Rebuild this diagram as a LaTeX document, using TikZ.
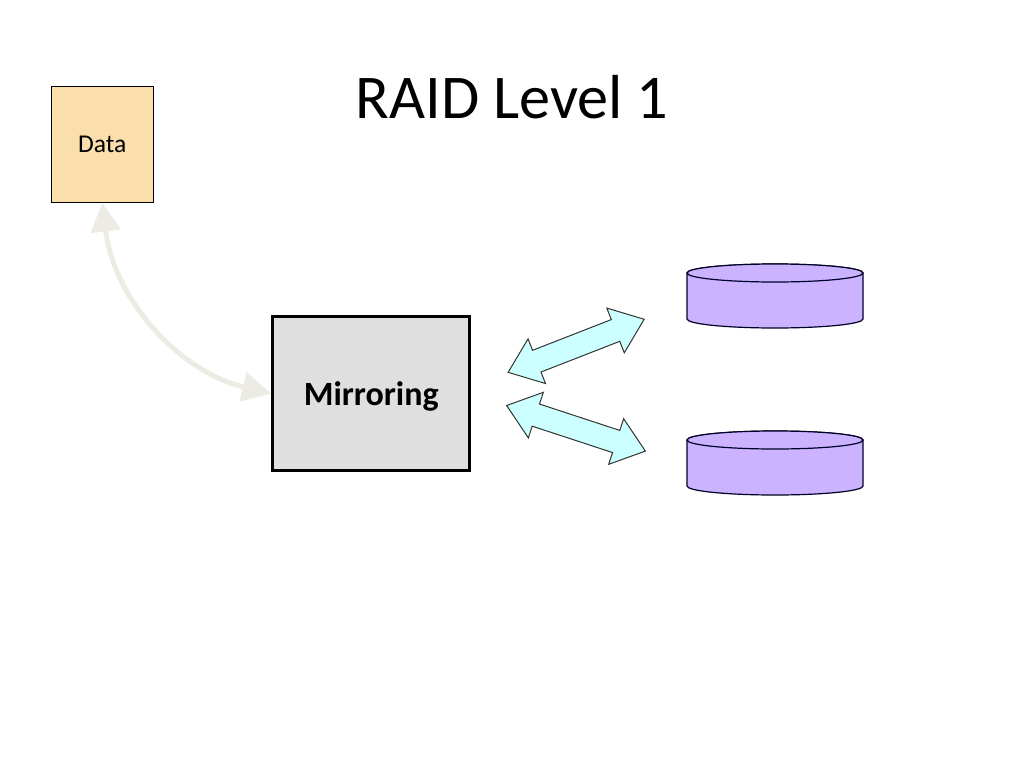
\documentclass[tikz,border=0pt]{standalone}
\usepackage{fontspec}
\setmainfont{Carlito}
\usetikzlibrary{arrows.meta,shapes.arrows}
\definecolor{datafill}{HTML}{FADFAC}
\definecolor{mirrorfill}{HTML}{DFDFDF}
\definecolor{diskfill}{HTML}{CCB3FF}
\definecolor{arrowfill}{HTML}{CCFFFF}
\definecolor{linkcol}{HTML}{ECECE4}
\tikzset{
  databox/.style={draw=black,fill=datafill,line width=1pt,minimum width=102.5pt,minimum height=116pt,inner sep=0pt,font=\fontsize{25.6}{30}\selectfont},
  mirrorbox/.style={draw=black,fill=mirrorfill,line width=3pt,minimum width=197pt,minimum height=154pt,inner sep=0pt,font=\fontsize{34}{40}\selectfont\bfseries},
  titletext/.style={inner sep=0pt,font=\fontsize{62.2}{74}\selectfont},
  blockarrow/.style={draw=black!80,fill=arrowfill,line width=1pt,double arrow,inner xsep=0pt,inner ysep=11.15pt,minimum width=0pt,minimum height=146pt,double arrow head extend=12.35pt,double arrow tip angle=76},
  disk/.style={draw=black!85!blue,fill=diskfill,line width=1.2pt},
  link/.style={draw=linkcol,line width=5pt,{Triangle[width=29pt,length=29pt]}-{Triangle[width=29pt,length=29pt]}}
}
\newcommand{\diskshape}[1]{%
  \path[disk] (687,#1) -- (687,#1+46) arc[x radius=88,y radius=9,start angle=180,end angle=0] -- (863,#1) arc[x radius=88,y radius=9,start angle=0,end angle=-180] -- cycle;
  \path[disk] (775,#1) ellipse[x radius=88,y radius=9];
}
\begin{document}
\begin{tikzpicture}[x=1pt,y=-1pt]
\useasboundingbox (0,0) rectangle (1024,768);
\fill[white] (0,0) rectangle (1024,768);
\node[titletext] (title) at (512,97) {RAID Level 1};
\node[databox] (data) at (102.25,144) {\raisebox{-8.5pt}[0pt][0pt]{Data}};
\node[mirrorbox] (mirror) at (371.25,393.5) {\raisebox{-12pt}[0pt][0pt]{Mirroring}};
\draw[link] (data.south) .. controls (114,300) and (180,372) .. (mirror.west);
\node[blockarrow,rotate=21.3] (upper) at (576.15,345.8) {};
\node[blockarrow,rotate=-18.2] (lower) at (576,428.3) {};
\diskshape{273}
\diskshape{440}
\end{tikzpicture}
\end{document}
